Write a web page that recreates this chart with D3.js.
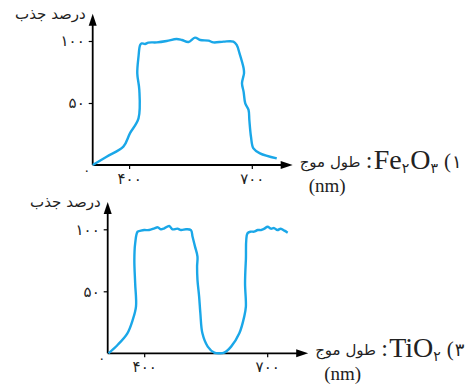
<!DOCTYPE html>
<html>
<head>
<meta charset="utf-8">
<script src="https://cdn.jsdelivr.net/npm/d3@7"></script>
<style>
  body { margin: 0; background: #fff; }
  svg { display: block; }
</style>
</head>
<body>
<div id="chart"></div>
<script>
// absorption spectra of Fe2O3 and TiO2
const fe2o3_nm = [311, 345, 386, 402, 423, 425, 420, 423, 427, 431, 439, 447, 468, 492, 516, 529, 545, 561, 574, 594, 606, 631, 655, 663, 670, 680, 681, 676, 680, 684, 692, 694, 698, 704, 720, 761]
const fe2o3_abs = [0, 6.7, 14.8, 25.5, 37.6, 60.5, 73.9, 87.4, 96.8, 98.1, 97.6, 98.7, 98.9, 100, 101.6, 100.8, 99.2, 102.7, 100.8, 100.3, 98.9, 99.5, 99.5, 96.8, 90, 78, 74, 65.9, 59, 49.7, 44.4, 36.3, 22.8, 13.4, 9.4, 5.4]

const tio2_nm = [313, 335, 359, 372, 380, 378, 376, 378, 384, 392, 400, 412, 425, 433, 441, 449, 461, 469, 481, 490, 502, 514, 518, 524, 530, 529, 530, 534, 537, 542, 555, 571, 583, 595, 612, 632, 644, 648, 646, 648, 652, 660, 668, 677, 685, 693, 701, 709, 717, 725, 733, 742, 750]
const tio2_abs = [0, 6.7, 16.1, 26.9, 37.6, 56.4, 75, 88.7, 98.1, 98.9, 99.4, 99.4, 100.8, 101.6, 100, 100.8, 102.7, 100, 100.5, 99.4, 100, 99.4, 94, 86, 78, 69.9, 59, 45.7, 32.3, 16.1, 5.4, 0.5, 0, 0.5, 5.4, 16.1, 29.6, 37.6, 56.4, 75.2, 96.8, 98.1, 98.1, 99.4, 99.4, 100.5, 102.1, 100.5, 101, 99.4, 100.5, 98.9, 97.3]

const yTicks = [50, 100]
const xTicks = [400, 700]
const yLabel = "درصد جذب"
const xLabel = "طول موج"
const unitLabel = "(nm)"

const faDigits = n => String(n).replace(/\d/g, d => "۰۱۲۳۴۵۶۷۸۹"[d])

const width = 474, height = 385
const svg = d3.select("#chart").append("svg")
  .attr("width", width)
  .attr("height", height)

const blue = "#1aa7e8"
const faFont = "DejaVu Sans"
const latinFont = "Liberation Serif"

function drawPanel(cfg) {
  const xScale = d3.scaleLinear()
    .domain([311, 800])
    .range([cfg.left, cfg.left + 489 * cfg.pxPerNm])
  const yScale = d3.scaleLinear()
    .domain([0, 122])
    .range([cfg.base, cfg.base - 122 * 1.24])

  const g = svg.append("g")

  // y axis
  const yAxis = g.append("g")
    .attr("transform", `translate(${cfg.left},0)`)
    .call(d3.axisLeft(yScale).tickValues(yTicks).tickSize(4).tickPadding(4).tickFormat(faDigits))
  yAxis.select(".domain").remove()
  yAxis.selectAll("line").attr("stroke", "#000").attr("stroke-width", 1.2)
  yAxis.selectAll("text").attr("font-family", faFont).attr("font-size", 15).attr("fill", "#222")

  // x axis
  const xAxis = g.append("g")
    .attr("transform", `translate(0,${cfg.base})`)
    .call(d3.axisBottom(xScale).tickValues(xTicks).tickSize(4).tickPadding(4).tickFormat(faDigits))
  xAxis.select(".domain").remove()
  xAxis.selectAll("line").attr("stroke", "#000").attr("stroke-width", 1.2)
  xAxis.selectAll("text").attr("font-family", faFont).attr("font-size", 15).attr("fill", "#222")

  // axis lines with arrowheads
  const x0 = xScale(311), y0 = yScale(0)
  const xEnd = xScale(800), yEnd = yScale(122)
  g.append("line")
    .attr("x1", x0).attr("y1", y0).attr("x2", xEnd - 6).attr("y2", y0)
    .attr("stroke", "#000").attr("stroke-width", 1.8)
  g.append("line")
    .attr("x1", x0).attr("y1", y0).attr("x2", x0).attr("y2", yEnd + 6)
    .attr("stroke", "#000").attr("stroke-width", 1.8)
  g.append("path")
    .attr("d", `M${xEnd},${y0} L${xEnd - 12},${y0 - 4} L${xEnd - 12},${y0 + 4} Z`)
    .attr("fill", "#000")
  g.append("path")
    .attr("d", `M${x0},${yEnd} L${x0 - 4},${yEnd + 12} L${x0 + 4},${yEnd + 12} Z`)
    .attr("fill", "#000")

  // origin label
  g.append("text")
    .attr("x", x0 - 6).attr("y", y0 + 6)
    .attr("text-anchor", "middle").attr("dominant-baseline", "middle")
    .attr("font-family", faFont).attr("font-size", 13).attr("fill", "#222")
    .text(faDigits(0))

  // curve
  const points = cfg.nm.map((d, i) => [d, cfg.abs[i]])
  g.append("path")
    .datum(points)
    .attr("fill", "none")
    .attr("stroke", blue)
    .attr("stroke-width", 2.4)
    .attr("stroke-linejoin", "round")
    .attr("d", d3.line()
      .x(d => xScale(d[0]))
      .y(d => yScale(d[1]))
      .curve(d3.curveCatmullRom))

  // y label
  g.append("text")
    .attr("x", x0 - 7).attr("y", yEnd + 5)
    .attr("text-anchor", "end")
    .attr("font-family", faFont).attr("font-size", 15).attr("fill", "#222")
    .text(yLabel)

  // x label + compound name
  const lx = xEnd + 7
  g.append("text")
    .attr("x", lx).attr("y", y0 + 2)
    .attr("font-family", faFont).attr("font-size", 15).attr("fill", "#222")
    .text(xLabel)
  g.append("text")
    .attr("x", lx + 9).attr("y", y0 + 27)
    .attr("font-family", latinFont).attr("font-size", 19).attr("fill", "#222")
    .text(unitLabel)

  let cx = lx + 66
  g.append("text")
    .attr("x", cx).attr("y", y0 + 3)
    .attr("font-family", latinFont).attr("font-size", 24).attr("fill", "#222")
    .text(":")
  cx += 8
  cfg.formula.forEach(part => {
    const t = g.append("text")
      .attr("x", cx)
      .attr("y", part.sub ? y0 + 8 : y0 + 4)
      .attr("font-family", part.sub ? faFont : latinFont)
      .attr("font-size", part.sub ? 14 : 28)
      .attr("fill", "#222")
      .text(part.t)
    cx += t.node().getComputedTextLength() + (part.sub ? 1 : 0)
  })
  cx += 5
  g.append("text")
    .attr("x", cx).attr("y", y0 + 3)
    .attr("font-family", latinFont).attr("font-size", 21).attr("fill", "#222")
    .text("(")
  g.append("text")
    .attr("x", cx + 8).attr("y", y0 + 3)
    .attr("font-family", faFont).attr("font-size", 18).attr("fill", "#222")
    .text(faDigits(cfg.num))
}

drawPanel({
  left: 92.7, base: 165, pxPerNm: 0.409,
  nm: fe2o3_nm, abs: fe2o3_abs,
  formula: [{t: "Fe"}, {t: faDigits(2), sub: true}, {t: "O"}, {t: faDigits(3), sub: true}],
  num: 1
})

drawPanel({
  left: 107.7, base: 353.3, pxPerNm: 0.41,
  nm: tio2_nm, abs: tio2_abs,
  formula: [{t: "TiO"}, {t: faDigits(2), sub: true}],
  num: 3
})
</script>
</body>
</html>
